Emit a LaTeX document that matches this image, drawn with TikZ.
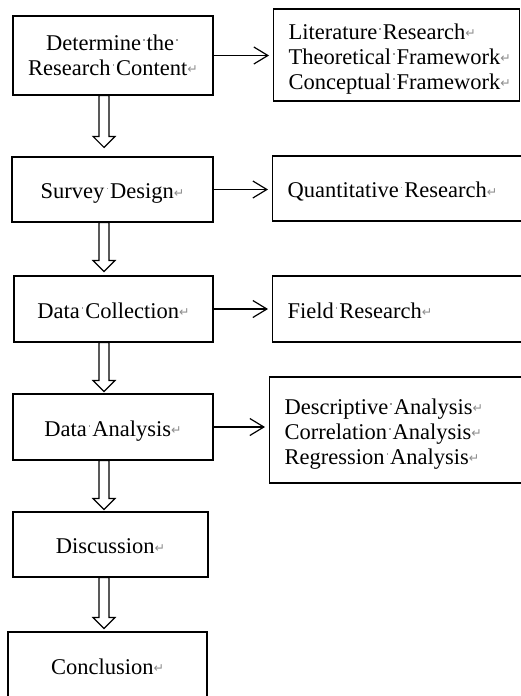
\documentclass[tikz,border=0pt]{standalone}
\usepackage{fontspec}
\setmainfont{Liberation Serif}
\newfontfamily\djv{DejaVu Sans}
\usetikzlibrary{arrows.meta,calc}
\newcommand\spc{\hbox to 0.25em{\hss\textcolor{black!40}{\rule[0.42em]{1.3pt}{1.3pt}}\hss}}
\newcommand\rmark{{\djv\fontsize{12.5}{12.5}\selectfont\textcolor{black!45}{\raisebox{0.1em}{↵}}}}
\newcommand\ctext[2][4pt]{\raisebox{-#1}[\height][\depth]{\begin{tabular}{@{}c@{}}#2\end{tabular}}}
\newcommand\ltext[2][4pt]{\raisebox{-#1}[\height][\depth]{\begin{tabular}{@{}l@{}}#2\end{tabular}}}
\tikzset{
  lbox/.style={draw, line width=1.2pt, inner sep=0pt,
    font=\fontsize{22.5}{25}\selectfont},
  rbox/.style={draw, line width=1.2pt, inner ysep=0pt, inner xsep=15pt, anchor=west,
    font=\fontsize{22.5}{25}\selectfont},
  harrow/.style={line width=1.2pt, -{Straight Barb[length=14pt,width=17pt,line width=1.2pt]}, shorten >=4pt},
  hollow/.style={line width=1.2pt, fill=white, line join=miter}
}
\newcommand\hollowarrow[3]{%
  \draw[hollow] let \p1=(#1.south), \p2=(#2.north) in
    (104pt-5pt,\y1) -- (104pt+5pt,\y1) -- (104pt+5pt,\y2+#3+11pt) -- (104pt+11pt,\y2+#3+11pt)
    -- (104pt,\y2+#3) -- (104pt-11pt,\y2+#3+11pt) -- (104pt-5pt,\y2+#3+11pt) -- cycle;}
\begin{document}
\begin{tikzpicture}[x=1pt,y=-1pt]
\useasboundingbox (0,0) rectangle (521,696);
\clip (0,0) rectangle (521,696);
% left column
\node[lbox, minimum width=200pt, minimum height=79pt] (L1) at (113,55.5) {\ctext[2pt]{Determine\spc the\spc\\Research\spc Content\rmark}};
\node[lbox, minimum width=201pt, minimum height=65pt] (L2) at (112.5,189.5) {\ctext{Survey\spc Design\rmark}};
\node[lbox, minimum width=199pt, minimum height=66pt] (L3) at (113.5,309) {\ctext{Data\spc Collection\rmark}};
\node[lbox, minimum width=200pt, minimum height=66pt] (L4) at (113,427) {\ctext{Data\spc Analysis\rmark}};
\node[lbox, minimum width=195pt, minimum height=65pt] (L5) at (110.5,544.5) {\ctext{Discussion\rmark}};
\node[lbox, minimum width=199pt, minimum height=66pt] (L6) at (107.5,665) {\ctext{Conclusion\rmark}};
% right column
\node[rbox, minimum width=246pt, minimum height=92pt, text width=216pt] (R1) at (273,55) {\ltext{Literature\spc Research\rmark\\Theoretical\spc Framework\rmark\\Conceptual\spc Framework\rmark}};
\node[rbox, minimum height=65pt, text width=240pt] (R2) at (272,188.5) {\ltext{Quantitative\spc Research\rmark}};
\node[rbox, minimum height=66pt, text width=240pt] (R3) at (272,309) {\ltext{Field\spc Research\rmark}};
\node[rbox, minimum height=106pt, text width=240pt] (R4) at (269,430) {\ltext{Descriptive\spc Analysis\rmark\\Correlation\spc Analysis\rmark\\Regression\spc Analysis\rmark}};
% horizontal arrows
\draw[harrow] (L1.east) -- (L1.east -| R1.west);
\draw[harrow] (L2.east) -- (L2.east -| R2.west);
\draw[harrow] (L3.east) -- (L3.east -| R3.west);
\draw[harrow] (L4.east) -- (L4.east -| R4.west);
% hollow arrows
\hollowarrow{L1}{L2}{9pt}
\hollowarrow{L2}{L3}{4pt}
\hollowarrow{L3}{L4}{2pt}
\hollowarrow{L4}{L5}{2pt}
\hollowarrow{L5}{L6}{3pt}
\end{tikzpicture}
\end{document}
